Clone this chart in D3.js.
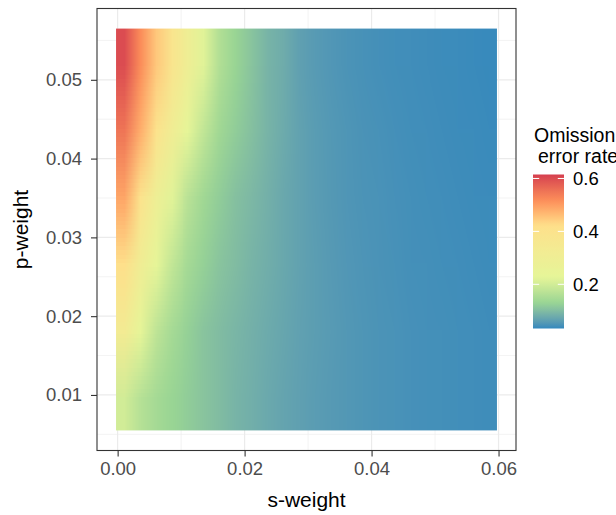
<!DOCTYPE html>
<html>
<head>
<meta charset="utf-8">
<script src="https://cdn.jsdelivr.net/npm/d3@7"></script>
<style>
  body { margin: 0; background: #fff; }
  text { font-family: "Liberation Sans", Arial, sans-serif; }
</style>
</head>
<body>
<div id="chart"></div>
<script>
// raster cell centres (s-weight columns, p-weight rows from top to bottom)
var sWeight = [0.001, 0.0035, 0.006, 0.0085, 0.011, 0.0135, 0.016, 0.0185, 0.021, 0.0235, 0.026, 0.0285,
               0.031, 0.0335, 0.036, 0.0385, 0.041, 0.0435, 0.046, 0.0485, 0.051, 0.0535, 0.056, 0.0585];
var pWeight = [0.05225, 0.04375, 0.03525, 0.02675, 0.01825, 0.00975];

// omission error rate, one row per p-weight
var rowP1 = [0.60, 0.52, 0.45, 0.38, 0.30, 0.22, 0.16, 0.13, 0.11, 0.09, 0.08, 0.065, 0.058, 0.053, 0.049, 0.046, 0.044, 0.042, 0.041, 0.040, 0.039, 0.038, 0.037, 0.036];
var rowP2 = [0.55, 0.48, 0.40, 0.31, 0.23, 0.18, 0.14, 0.12, 0.105, 0.09, 0.078, 0.067, 0.060, 0.055, 0.051, 0.048, 0.046, 0.044, 0.042, 0.041, 0.040, 0.039, 0.038, 0.037];
var rowP3 = [0.49, 0.40, 0.29, 0.22, 0.17, 0.14, 0.12, 0.105, 0.095, 0.085, 0.075, 0.067, 0.061, 0.056, 0.052, 0.049, 0.047, 0.045, 0.043, 0.042, 0.041, 0.040, 0.039, 0.038];
var rowP4 = [0.42, 0.31, 0.23, 0.18, 0.145, 0.125, 0.11, 0.10, 0.09, 0.082, 0.074, 0.067, 0.062, 0.057, 0.053, 0.050, 0.048, 0.046, 0.044, 0.043, 0.042, 0.041, 0.040, 0.039];
var rowP5 = [0.33, 0.23, 0.175, 0.145, 0.125, 0.11, 0.10, 0.092, 0.085, 0.078, 0.072, 0.066, 0.062, 0.058, 0.054, 0.051, 0.049, 0.047, 0.045, 0.044, 0.043, 0.042, 0.041, 0.040];
var rowP6 = [0.20, 0.165, 0.145, 0.13, 0.12, 0.11, 0.10, 0.09, 0.083, 0.076, 0.070, 0.065, 0.061, 0.057, 0.054, 0.051, 0.049, 0.047, 0.045, 0.044, 0.043, 0.042, 0.041, 0.040];
var omission = [rowP1, rowP2, rowP3, rowP4, rowP5, rowP6];

var xTicks = [0, 0.02, 0.04, 0.06];
var xMinor = [0.01, 0.03, 0.05];
var yTicks = [0.01, 0.02, 0.03, 0.04, 0.05];
var yMinor = [0.005, 0.015, 0.025, 0.035, 0.045, 0.055];
var legendTicks = [0.2, 0.4, 0.6];
var fillLimits = [0.033, 0.615];
var spectral = ["#D53E4F", "#FC8D59", "#FEE08B", "#F2EC93", "#E6F598", "#99D594", "#3288BD"];

var width = 616, height = 515;
var panel = {left: 97, right: 516, top: 8.5, bottom: 450.5};

var sStep = sWeight[1] - sWeight[0];
var pStep = pWeight[0] - pWeight[1];
var sExt = [sWeight[0] - sStep / 2, sWeight[sWeight.length - 1] + sStep / 2];
var pExt = [pWeight[pWeight.length - 1] - pStep / 2, pWeight[0] + pStep / 2];
// ggplot style 5% expansion
function expand(e) { var d = (e[1] - e[0]) * 0.05; return [e[0] - d, e[1] + d]; }

var x = d3.scaleLinear().domain(expand(sExt)).range([panel.left, panel.right]);
var y = d3.scaleLinear().domain(expand(pExt)).range([panel.bottom, panel.top]);

var stops = spectral.map(function(c, i) { return fillLimits[0] + i * (fillLimits[1] - fillLimits[0]) / (spectral.length - 1); });
var color = d3.scaleLinear()
    .domain(stops)
    .range(spectral.slice().reverse())
    .interpolate(d3.interpolateLab)
    .clamp(true);

var svg = d3.select('#chart').append('svg')
    .attr('width', width)
    .attr('height', height);

// gridlines
svg.append('g').selectAll('line.xminor').data(xMinor).enter().append('line')
    .attr('x1', x).attr('x2', x).attr('y1', panel.top).attr('y2', panel.bottom)
    .style('stroke', '#ebebeb').style('stroke-width', 0.6);
svg.append('g').selectAll('line.yminor').data(yMinor).enter().append('line')
    .attr('y1', y).attr('y2', y).attr('x1', panel.left).attr('x2', panel.right)
    .style('stroke', '#ebebeb').style('stroke-width', 0.6);
svg.append('g').selectAll('line.xmajor').data(xTicks).enter().append('line')
    .attr('x1', x).attr('x2', x).attr('y1', panel.top).attr('y2', panel.bottom)
    .style('stroke', '#ebebeb').style('stroke-width', 1.2);
svg.append('g').selectAll('line.ymajor').data(yTicks).enter().append('line')
    .attr('y1', y).attr('y2', y).attr('x1', panel.left).attr('x2', panel.right)
    .style('stroke', '#ebebeb').style('stroke-width', 1.2);

// raster: one canvas pixel per cell, smoothed when scaled (like interpolate = TRUE)
var canvas = document.createElement('canvas');
canvas.width = sWeight.length;
canvas.height = pWeight.length;
var ctx = canvas.getContext('2d');
omission.forEach(function(row, j) {
    row.forEach(function(v, i) {
        ctx.fillStyle = color(v);
        ctx.fillRect(i, j, 1, 1);
    });
});
svg.append('image')
    .attr('href', canvas.toDataURL())
    .attr('x', x(sExt[0]))
    .attr('y', y(pExt[1]))
    .attr('width', x(sExt[1]) - x(sExt[0]))
    .attr('height', y(pExt[0]) - y(pExt[1]))
    .attr('preserveAspectRatio', 'none')
    .style('image-rendering', 'auto');

// panel border
svg.append('rect')
    .attr('x', panel.left).attr('y', panel.top)
    .attr('width', panel.right - panel.left).attr('height', panel.bottom - panel.top)
    .style('fill', 'none').style('stroke', '#333333').style('stroke-width', 1.1);

// axes
var xAxis = svg.append('g').attr('transform', 'translate(0,' + panel.bottom + ')')
    .call(d3.axisBottom(x).tickValues(xTicks).tickFormat(d3.format('.2f')).tickSize(6).tickPadding(5));
var yAxis = svg.append('g').attr('transform', 'translate(' + panel.left + ',0)')
    .call(d3.axisLeft(y).tickValues(yTicks).tickFormat(d3.format('.2f')).tickSize(6).tickPadding(9));
[xAxis, yAxis].forEach(function(a) {
    a.select('.domain').remove();
    a.selectAll('.tick line').style('stroke', '#333333').style('stroke-width', 1.1);
    a.selectAll('.tick text').style('fill', '#4d4d4d').style('font-size', '18.5px')
        .style('font-family', '"Liberation Sans", Arial, sans-serif');
});

svg.append('text')
    .attr('x', (panel.left + panel.right) / 2)
    .attr('y', 507)
    .attr('text-anchor', 'middle')
    .style('font-size', '21px')
    .text('s-weight');

svg.append('text')
    .attr('transform', 'translate(28,' + ((panel.top + panel.bottom) / 2) + ') rotate(-90)')
    .attr('text-anchor', 'middle')
    .style('font-size', '21px')
    .text('p-weight');

// legend
var legendX = 533, legendW = 31;
var ly = d3.scaleLinear().domain(fillLimits).range([328.5, 174.5]);

svg.append('text').attr('x', 534).attr('y', 141.5).style('font-size', '19.5px').text('Omission');
svg.append('text').attr('x', 538).attr('y', 162.5).style('font-size', '19.5px').text('error rate');

var grad = svg.append('defs').append('linearGradient')
    .attr('id', 'bar').attr('x1', 0).attr('x2', 0).attr('y1', 1).attr('y2', 0);
grad.selectAll('stop').data(d3.range(0, 1.0001, 0.02)).enter().append('stop')
    .attr('offset', function(t) { return t; })
    .attr('stop-color', function(t) { return color(fillLimits[0] + t * (fillLimits[1] - fillLimits[0])); });

svg.append('rect')
    .attr('x', legendX).attr('y', ly(fillLimits[1]))
    .attr('width', legendW).attr('height', ly(fillLimits[0]) - ly(fillLimits[1]))
    .style('fill', 'url(#bar)');

var lt = svg.append('g').selectAll('g').data(legendTicks).enter().append('g');
lt.append('line')
    .attr('x1', legendX).attr('x2', legendX + legendW / 5)
    .attr('y1', ly).attr('y2', ly)
    .style('stroke', 'white').style('stroke-width', 1);
lt.append('line')
    .attr('x1', legendX + legendW * 4 / 5).attr('x2', legendX + legendW)
    .attr('y1', ly).attr('y2', ly)
    .style('stroke', 'white').style('stroke-width', 1);
lt.append('text')
    .attr('x', 573)
    .attr('y', function(d) { return ly(d) + 6.6; })
    .style('font-size', '18.5px')
    .text(d3.format('.1f'));
</script>
</body>
</html>
